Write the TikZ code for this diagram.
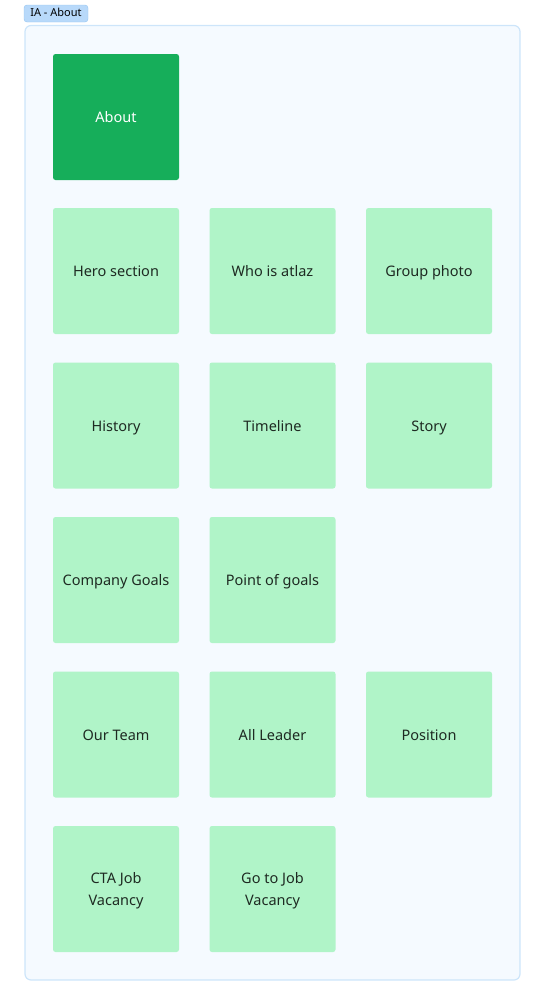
\documentclass[tikz,border=0pt]{standalone}
\usepackage{fontspec}
\setmainfont{Noto Sans}
\usepackage{tikz}
\usetikzlibrary{positioning}
\definecolor{frameFill}{HTML}{F5FAFF}
\definecolor{frameLine}{HTML}{CDE5FA}
\definecolor{tagFill}{HTML}{B8D9FA}
\definecolor{tagLine}{HTML}{94C4F2}
\definecolor{mainGreen}{HTML}{16AE5A}
\definecolor{cardGreen}{HTML}{B0F4C8}
\definecolor{cardText}{HTML}{1E2A22}
\tikzset{
  frameBox/.style={ draw=frameLine, fill=frameFill, line width=1.2pt, rounded corners=6pt }
}
\tikzset{
  tagBox/.style={ draw=tagLine, fill=tagFill, rounded corners=3pt, inner sep=0pt,
    minimum width=64pt, minimum height=17pt, text height=8pt, text depth=2pt,
    font=\fontsize{11}{13}\selectfont }
}
\tikzset{
  mainCard/.style={ fill=mainGreen, rounded corners=2.5pt, minimum size=126pt, inner sep=0pt,
    text=white, align=center, text height=13pt, text depth=2pt,
    font=\fontsize{14.5}{22}\selectfont }
}
\tikzset{
  subCard/.style={ fill=cardGreen, rounded corners=2.5pt, minimum size=126pt, inner sep=0pt,
    text=cardText, align=center, text height=13pt, text depth=2pt,
    font=\fontsize{14.5}{22}\selectfont }
}

\begin{document}
\begin{tikzpicture}[x=1pt, y=-1pt]
      \useasboundingbox (0,0) rectangle (545,1005);
      \draw[frameBox] (25,25.5) rectangle (520,980);
      \node[tagBox] (tag) at (56,13.5) {IA - About};

      \node[mainCard] (about) at (116,117) {About};

      \node[subCard] (hero) at (116,271) {Hero section};
      \node[subCard] (who) at (272.5,271) {Who is atlaz};
      \node[subCard] (photo) at (429,271) {Group photo};

      \node[subCard] (history) at (116,425.5) {History};
      \node[subCard] (timeline) at (272.5,425.5) {Timeline};
      \node[subCard] (story) at (429,425.5) {Story};

      \node[subCard] (goals) at (116,580) {Company Goals};
      \node[subCard] (points) at (272.5,580) {Point of goals};

      \node[subCard] (team) at (116,734.5) {Our Team};
      \node[subCard] (leader) at (272.5,734.5) {All Leader};
      \node[subCard] (position) at (429,734.5) {Position};

      \node[subCard, text height=34pt] (cta) at (116,889) {CTA Job\\Vacancy};
      \node[subCard, text height=34pt] (vacancy) at (272.5,889) {Go to Job\\Vacancy};
\end{tikzpicture}
\end{document}
